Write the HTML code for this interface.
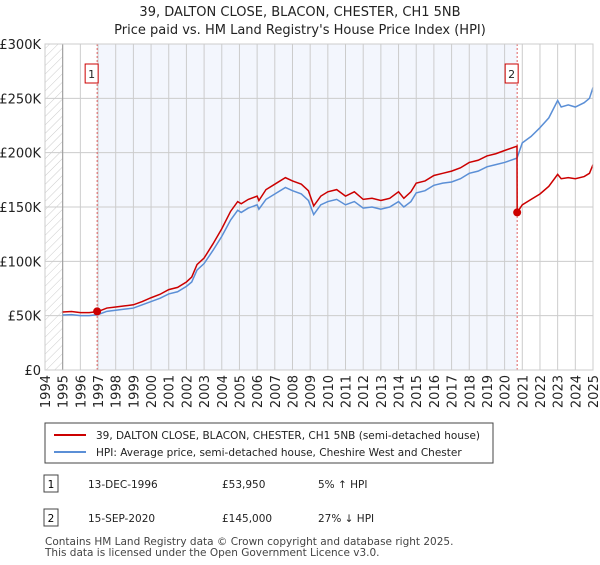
<!DOCTYPE html>
<html><head><meta charset="utf-8"><style>
body{margin:0;background:#fff;font-family:"Liberation Sans","DejaVu Sans",sans-serif;}
svg text{font-family:"DejaVu Sans","Liberation Sans",sans-serif;}
</style></head><body>
<svg id="c" width="600" height="560" xmlns="http://www.w3.org/2000/svg">
<defs><pattern id="h" width="6" height="6" patternUnits="userSpaceOnUse" patternTransform="rotate(45)"><line x1="0" y1="0" x2="0" y2="6" stroke="#ccc" stroke-width="1"/></pattern></defs>
<text x="300" y="16" text-anchor="middle" font-size="13" fill="#222">39, DALTON CLOSE, BLACON, CHESTER, CH1 5NB</text>
<text x="300" y="34" text-anchor="middle" font-size="13" fill="#222">Price paid vs. HM Land Registry's House Price Index (HPI)</text>
<g id="plot"></g>
<rect x="45" y="423" width="448" height="40" fill="#fff" stroke="#444"/>
<line x1="54" y1="435" x2="86" y2="435" stroke="#cc0000" stroke-width="2"/>
<text x="96" y="439" font-size="10.5" fill="#222">39, DALTON CLOSE, BLACON, CHESTER, CH1 5NB (semi-detached house)</text>
<line x1="54" y1="452" x2="86" y2="452" stroke="#5b8fd6" stroke-width="2"/>
<text x="96" y="456" font-size="10.5" fill="#222">HPI: Average price, semi-detached house, Cheshire West and Chester</text>
<g>
<rect x="44" y="475" width="14" height="17" fill="#fff" stroke="#444"/><text x="51" y="488" text-anchor="middle" font-size="10.5">1</text>
<text x="88" y="488" font-size="10.5" fill="#222">13-DEC-1996</text><text x="222" y="488" font-size="10.5" fill="#222">£53,950</text><text x="318" y="488" font-size="10.5" fill="#222">5% ↑ HPI</text></g>
<g>
<rect x="44" y="509" width="14" height="17" fill="#fff" stroke="#444"/><text x="51" y="522" text-anchor="middle" font-size="10.5">2</text>
<text x="88" y="522" font-size="10.5" fill="#222">15-SEP-2020</text><text x="222" y="522" font-size="10.5" fill="#222">£145,000</text><text x="318" y="522" font-size="10.5" fill="#222">27% ↓ HPI</text></g>
<text x="45" y="545" font-size="10.5" fill="#444">Contains HM Land Registry data © Crown copyright and database right 2025.</text>
<text x="45" y="556" font-size="10.5" fill="#444">This data is licensed under the Open Government Licence v3.0.</text>
</svg>
<script>
const yTicks=[0,50,100,150,200,250,300];
const yTickLabels=["£0","£50K","£100K","£150K","£200K","£250K","£300K"];
const xYears=[1994,1995,1996,1997,1998,1999,2000,2001,2002,2003,2004,2005,2006,2007,2008,2009,2010,2011,2012,2013,2014,2015,2016,2017,2018,2019,2020,2021,2022,2023,2024,2025];
const hpiDates=[1995,1995.5,1996,1996.5,1997,1997.5,1998,1998.5,1999,1999.5,2000,2000.5,2001,2001.5,2002,2002.3,2002.6,2003,2003.5,2004,2004.5,2004.9,2005.1,2005.5,2006,2006.1,2006.5,2007,2007.6,2008,2008.5,2008.9,2009.2,2009.6,2010,2010.5,2011,2011.5,2012,2012.5,2013,2013.5,2014,2014.3,2014.7,2015,2015.5,2016,2016.5,2017,2017.5,2018,2018.5,2019,2019.5,2020,2020.7,2021,2021.5,2022,2022.5,2023,2023.2,2023.6,2024,2024.5,2024.8,2025];
const hpiValues=[50.6,51,50,50,51,54,55,56,57,60,63,66,70,72,77,81,92,98,110,123,138,147,145,149,152,148,157,162,168,165,162,156,143,152,155,157,152,155,149,150,148,150,155,150,155,163,165,170,172,173,176,181,183,187,189,191,195,209,215,223,232,248,242,244,242,246,250,260];
const priceDates=[1995,1995.5,1996,1996.5,1997,1997.5,1998,1998.5,1999,1999.5,2000,2000.5,2001,2001.5,2002,2002.3,2002.6,2003,2003.5,2004,2004.5,2004.9,2005.1,2005.5,2006,2006.1,2006.5,2007,2007.6,2008,2008.5,2008.9,2009.2,2009.6,2010,2010.5,2011,2011.5,2012,2012.5,2013,2013.5,2014,2014.3,2014.7,2015,2015.5,2016,2016.5,2017,2017.5,2018,2018.5,2019,2019.5,2020,2020.7,2020.71,2021,2021.5,2022,2022.5,2023,2023.2,2023.6,2024,2024.5,2024.8,2025];
const priceValues=[53.4,53.8,52.8,52.8,53.8,57,58,59,60,63,66.5,69.6,74,76,81,85.5,97,103,116,130,146,155,153,157,160,156,166,171,177,174,171,165,151,160,164,166,160,164,157,158,156,158,164,158,164,172,174,179,181,183,186,191,193,197,199,202,206,145,152,157,162,169,180,176,177,176,178,181,189];
const saleDates=[1996.95,2020.71];
const saleValues=[53.95,145];
const saleLabels=["1","2"];
const X0=45,X1=593,Y0=370,Y1=44;
const xs=d=>X0+(d-1994)*(X1-X0)/31;
const ys=v=>Y0-v*(Y0-Y1)/300;
const NS="http://www.w3.org/2000/svg";
const g=document.getElementById('plot');
function mk(t,a){const e=document.createElementNS(NS,t);for(const k in a)e.setAttribute(k,a[k]);g.appendChild(e);return e;}
let e;
e=mk('rect',{x:X0,y:Y1,width:X1-X0,height:Y0-Y1,fill:'#fff'});


e=mk('rect',{x:xs(saleDates[0]),y:Y1,width:xs(saleDates[1])-xs(saleDates[0]),height:Y0-Y1,fill:'#f3f6fd'});


e=mk('rect',{x:X0,y:Y1,width:xs(1995)-X0,height:Y0-Y1,fill:'url(#h)'});


yTicks.forEach((v,i)=>{
 e=mk('line',{x1:X0,x2:X1,y1:ys(v),y2:ys(v),stroke:'#ccc','stroke-width':1});
 
 
 e=mk('text',{x:X0-4,y:ys(v)+5,'text-anchor':'end','font-size':13,fill:'#222'});
 e.textContent=yTickLabels[i];
 
 
});
xYears.forEach(yr=>{
 e=mk('line',{x1:xs(yr),x2:xs(yr),y1:Y1,y2:Y0,stroke:'#ccc','stroke-width':1});
 
 
 e=mk('text',{x:0,y:0,'text-anchor':'end','font-size':13,fill:'#222',transform:`translate(${xs(yr)+5},${Y0+5}) rotate(-90)`});
 e.textContent=yr;
 
 
});
e=mk('line',{x1:xs(1995),x2:xs(1995),y1:Y1,y2:Y0,stroke:'#999','stroke-width':1});


saleDates.forEach((d,i)=>{
 e=mk('line',{x1:xs(d),x2:xs(d),y1:Y1,y2:Y0,stroke:'#e06060','stroke-width':1,'stroke-dasharray':'2,2'});
 
 
 e=mk('rect',{x:xs(d)-12,y:64,width:13,height:19,fill:'#fff',stroke:'#c00'});
 
 
 e=mk('text',{x:xs(d)-5.5,y:78,'text-anchor':'middle','font-size':11,fill:'#222'});
 e.textContent=saleLabels[i];
 
 
});
e=mk('polyline',{points:hpiDates.map((d,i)=>xs(d)+','+ys(hpiValues[i])).join(' '),fill:'none',stroke:'#5b8fd6','stroke-width':1.5});


e=mk('polyline',{points:priceDates.map((d,i)=>xs(d)+','+ys(priceValues[i])).join(' '),fill:'none',stroke:'#cc0000','stroke-width':1.5});


saleDates.forEach((d,i)=>{
 e=mk('circle',{cx:xs(d),cy:ys(saleValues[i]),r:4,fill:'#cc0000'});
 
 
});
e=mk('rect',{x:X0,y:Y1,width:X1-X0,height:Y0-Y1,fill:'none',stroke:'#ccc'});


</script>
</body></html>
